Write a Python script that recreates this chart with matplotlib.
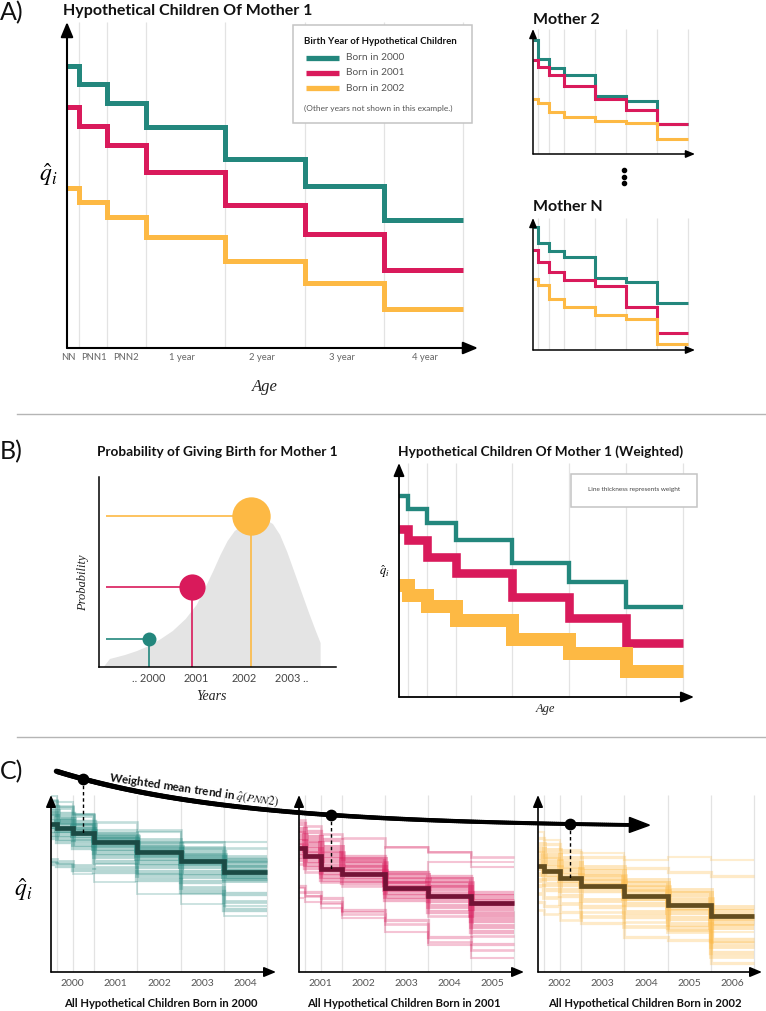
import numpy as np
import matplotlib
matplotlib.use('Agg')
import matplotlib.pyplot as plt
from matplotlib.collections import LineCollection
from matplotlib.patches import Rectangle, Polygon

W, H, DPI = 766, 1011, 100
plt.rcParams['font.family'] = ['Lato', 'DejaVu Sans']
plt.rcParams['mathtext.fontset'] = 'stix'

TEAL, CRIMSON, GOLD = '#23877d', '#d91a5b', '#fdb944'
COLORS = [TEAL, CRIMSON, GOLD]
DARK = ['#1b4b45', '#741236', '#634d1f']
GRID = '#e3e3e3'
SERIF = ['Liberation Serif', 'DejaVu Serif']

# ---------------- data ----------------
age_edges = [0, 0.15, 0.5, 1, 2, 3, 4, 5]
age_labels = ['NN', 'PNN1', 'PNN2', '1 year', '2 year', '3 year', '4 year']
age_label_pos = [0.02, 0.34, 0.75, 1.45, 2.46, 3.47, 4.52]
series_names = ['Born in 2000', 'Born in 2001', 'Born in 2002']

# Mother 1 (panel A)
m1_2000 = [282, 264, 245, 221, 189, 162, 128]
m1_2001 = [241, 222, 203, 176, 143, 114, 78]
m1_2002 = [160, 146, 131, 111, 87, 65, 39]
# Mother 2
m2_2000 = [114, 95, 86, 79, 58, 53, 30]
m2_2001 = [94, 87, 79, 68, 55, 44, 30]
m2_2002 = [55, 51, 42, 37, 33, 31, 15]
# Mother N
mN_2000 = [123, 107, 99, 93, 72, 68, 47]
mN_2001 = [100, 88, 78, 70, 64, 43, 17]
mN_2002 = [71, 65, 51, 43, 35, 31, 6]

# Panel B: birth probability
birth_time = [2000.0, 2000.9, 2002.15]
birth_prob = [28, 80, 151]
year_ticks = [2000, 2001, 2002, 2003]
year_tick_labels = ['.. 2000', '2001', '2002', '2003 ..']
density_years = [1999.05, 1999.18, 1999.5, 1999.75, 2000.0, 2000.25, 2000.5,
                 2000.77, 2001.0, 2001.17, 2001.35, 2001.5, 2001.65, 2001.8,
                 2002.0, 2002.2, 2002.45, 2002.6, 2002.75, 2002.9, 2003.05,
                 2003.2, 2003.35, 2003.5, 2003.6, 2003.6]
density_vals = [0, 8, 12, 16, 21, 28, 36, 48, 62, 78, 96, 112, 126, 136,
                143, 146, 147, 143, 132, 115, 95, 75, 55, 36, 24, 0]

# Panel B: weighted children of mother 1
w_2000 = [201, 188, 174, 157, 134, 115, 90]
w_2001 = [168, 157, 140, 124, 100, 79, 54]
w_2002 = [112, 102, 91, 77, 58, 44, 26]

# Panel C: all hypothetical children per birth year
c_birth_years = [2000, 2001, 2002]
c2000_mean = [148, 144, 139, 130, 120, 111, 100]
c2001_mean = [124, 116, 103, 98, 84, 76, 69]
c2002_mean = [106, 101, 94, 86, 76, 67, 56]

c2000_children = [
    [176, 170, 158, 142, 140, 130, 130], [170, 164, 156, 138, 132, 124, 115],
    [165, 158, 150, 136, 128, 120, 112], [160, 152, 146, 134, 124, 116, 108],
    [155, 150, 142, 132, 122, 114, 104], [150, 146, 140, 128, 118, 110, 100],
    [146, 142, 137, 124, 114, 106, 96], [142, 138, 133, 120, 110, 100, 94],
    [138, 134, 128, 116, 106, 96, 92], [134, 130, 124, 110, 100, 90, 78],
    [112, 110, 106, 104, 96, 84, 70], [108, 106, 102, 100, 92, 80, 62],
    [110, 108, 98, 90, 78, 68, 56], [172, 166, 158, 150, 142, 130, 124],
    [144, 140, 132, 108, 98, 78, 66], [160, 154, 148, 140, 130, 124, 112]]
c2000_weights = [0.2, 0.5, 0.8, 1.0, 0.9, 1.0, 0.9, 0.8, 0.7, 0.6, 0.5, 0.6,
                 0.15, 0.3, 0.2, 0.3]

c2001_children = [
    [152, 146, 138, 134, 125, 120, 115], [148, 140, 132, 115, 99, 95, 79],
    [142, 134, 124, 112, 96, 92, 75], [136, 128, 118, 108, 92, 88, 70],
    [130, 122, 112, 104, 88, 84, 64], [126, 118, 106, 100, 84, 78, 58],
    [120, 112, 100, 96, 80, 72, 52], [116, 108, 96, 92, 76, 66, 46],
    [112, 104, 92, 89, 72, 60, 40], [108, 100, 90, 86, 90, 56, 36],
    [86, 80, 74, 62, 52, 35, 28], [80, 76, 70, 58, 48, 30, 22],
    [74, 70, 64, 54, 40, 27, 14], [84, 76, 68, 60, 125, 120, 110],
    [140, 130, 120, 112, 100, 110, 105]]
c2001_weights = [0.3, 0.6, 0.9, 1.0, 0.9, 1.0, 0.8, 0.7, 0.6, 0.3, 0.4, 0.3,
                 0.2, 0.15, 0.2]

c2002_children = [
    [140, 132, 122, 119, 112, 115, 112], [134, 128, 120, 115, 104, 100, 96],
    [128, 122, 114, 105, 92, 82, 65], [122, 116, 108, 100, 88, 78, 60],
    [116, 110, 102, 95, 84, 72, 55], [110, 104, 96, 90, 80, 66, 50],
    [104, 98, 92, 86, 74, 60, 45], [98, 94, 88, 82, 68, 54, 32],
    [92, 88, 82, 72, 60, 48, 26], [86, 82, 76, 65, 55, 44, 19],
    [78, 74, 68, 55, 45, 40, 15], [70, 66, 60, 49, 35, 32, 9],
    [62, 58, 52, 60, 50, 42, 30], [120, 114, 104, 96, 72, 62, 40]]
c2002_weights = [0.2, 0.4, 0.7, 0.9, 1.0, 1.0, 0.9, 0.8, 0.7, 0.6, 0.5, 0.4,
                 0.3, 0.2]

# ---------------- figure ----------------
fig = plt.figure(figsize=(W / DPI, H / DPI), dpi=DPI)
fig.patch.set_facecolor('white')


def px_axes(x0, ytop, x1, ybot):
    ax = fig.add_axes([x0 / W, 1 - ybot / H, (x1 - x0) / W, (ybot - ytop) / H])
    ax.set_axis_off()
    return ax


def draw_arrows(ax, lw, ms):
    style = '-|>,head_length=0.6,head_width=0.25'
    for xy in [(0, 1), (1, 0)]:
        ax.annotate('', xy=xy, xytext=(0, 0), xycoords='axes fraction',
                    textcoords='axes fraction',
                    arrowprops=dict(arrowstyle=style, lw=lw, color='black',
                                    mutation_scale=ms, shrinkA=0, shrinkB=0),
                    annotation_clip=False, zorder=6)


def step_axes(x0, ytop, x1, ybot, x5):
    ax = px_axes(x0, ytop, x1, ybot)
    ax.set_xlim(0, age_edges[-1] * (x1 - x0) / (x5 - x0))
    ax.set_ylim(0, ybot - ytop)
    ax.vlines(age_edges[1:], 0, ybot - ytop, color=GRID, lw=0.9, zorder=0)
    return ax


# ---- Panel A main ----
axA = step_axes(67, 22, 478, 348, 463)
for vals, col in zip([m1_2000, m1_2001, m1_2002], COLORS):
    axA.stairs(vals, age_edges, baseline=None, color=col, lw=3.6, zorder=2)
draw_arrows(axA, 1.5, 15)
for xpos, lab in zip(age_label_pos, age_labels):
    axA.text(xpos, -10, lab, ha='center', va='center', fontsize=6.8,
             color='#666666')

# ---- Mother 2 / Mother N ----
for box, data in [((533, 29, 695, 154), [m2_2000, m2_2001, m2_2002]),
                  ((533, 218, 695, 350), [mN_2000, mN_2001, mN_2002])]:
    axm = step_axes(*box, 688)
    for vals, col in zip(data, COLORS):
        axm.stairs(vals, age_edges, baseline=None, color=col, lw=2.2, zorder=2)
    draw_arrows(axm, 1.1, 9)

# ---- Panel B left ----
axBL = fig.add_axes([99 / W, 1 - 667 / H, (336 - 99) / W, (667 - 477) / H])
axBL.set_xlim(1998.951, 2003.923)
axBL.set_ylim(0, 190)
for s in ['top', 'right']:
    axBL.spines[s].set_visible(False)
for s in ['left', 'bottom']:
    axBL.spines[s].set_linewidth(1.1)
axBL.set_xticks([])
axBL.set_yticks([])
axBL.patch.set_alpha(0)
axBL.fill(density_years, density_vals, color='#e4e4e4', lw=0, zorder=0)
pmax = max(birth_prob)
for t, p, col in zip(birth_time, birth_prob, COLORS):
    axBL.hlines(p, axBL.get_xlim()[0] + 0.15, t, color=col, lw=1.2, zorder=2)
    axBL.vlines(t, 0, p, color=col, lw=1.2, zorder=2)
    diam_pt = 1.89 * p ** 0.6 * 0.72
    axBL.scatter([t], [p], s=diam_pt ** 2, color=col, linewidths=0, zorder=3)
for yr, lab in zip(year_ticks, year_tick_labels):
    axBL.text(yr, -11, lab, ha='center', va='center', fontsize=7.8,
              color='#444444', clip_on=False)

# ---- Panel B right ----
axBR = step_axes(399, 463, 694, 697, 682.5)
for vals, col, p in zip([w_2000, w_2001, w_2002], COLORS, birth_prob):
    lw_px = 13 * (p / pmax) ** 0.65
    axBR.stairs(vals, age_edges, baseline=None, color=col, lw=lw_px * 0.72,
                zorder=2)
draw_arrows(axBR, 1.3, 13)

# ---- Panel C ----
axC = [step_axes(51, 795, 276, 972, 267),
       step_axes(299, 795, 524, 972, 514),
       step_axes(538, 795, 762, 972, 754)]
c_children = [c2000_children, c2001_children, c2002_children]
c_weights = [c2000_weights, c2001_weights, c2002_weights]
c_means = [c2000_mean, c2001_mean, c2002_mean]
for ax, kids, wts, mean, col, dk, by in zip(axC, c_children, c_weights,
                                            c_means, COLORS, DARK,
                                            c_birth_years):
    for vals, w in zip(kids, wts):
        ax.stairs(vals, age_edges, baseline=None, color=col,
                  alpha=0.22 + 0.18 * w, lw=(1 + 5.5 * w) * 0.72, zorder=2)
    ax.stairs(mean, age_edges, baseline=None, color=dk, lw=3.4, zorder=4)
    draw_arrows(ax, 1.2, 12)
    for i in range(5):
        ax.text(i + 0.5, -11, str(by + i), ha='center', va='center',
                fontsize=7.5, color='#555555')

# ---------------- overlay (annotations in pixel coords) ----------------
ov = fig.add_axes([0, 0, 1, 1], zorder=10)
ov.set_xlim(0, W)
ov.set_ylim(H, 0)
ov.set_axis_off()

# section labels & separators
for lab, y in [('A)', 13), ('B)', 452), ('C)', 772)]:
    ov.text(0, y, lab, fontsize=18, ha='left', va='center', color='#111111')
for y in [414, 737]:
    ov.plot([17, 766], [y, y], color='#b5b5b5', lw=1)

# titles
bold = dict(fontweight='bold', va='baseline', color='#111111')
ov.text(63, 15, 'Hypothetical Children Of Mother 1', fontsize=11.5, **bold)
ov.text(533, 24, 'Mother 2', fontsize=11.5, **bold)
ov.text(533, 211, 'Mother N', fontsize=11.5, **bold)
ov.text(97, 456, 'Probability of Giving Birth for Mother 1', fontsize=9.8,
        **bold)
ov.text(398, 456, 'Hypothetical Children Of Mother 1 (Weighted)', fontsize=9.8,
        **bold)
for cx, by in zip([161, 404, 645], c_birth_years):
    ov.text(cx, 1007, f'All Hypothetical Children Born in {by}', fontsize=8.1,
            ha='center', **bold)

ov.scatter([624] * 3, [170, 176.5, 183], s=9, color='black')

# axis labels
ser = dict(family=SERIF, style='italic', color='#222222', ha='center',
           va='center')
ov.text(265, 387, 'Age', fontsize=12, **ser)
ov.text(48, 175, r'$\hat{q}_i$', fontsize=17, ha='center', va='center')
ov.text(211, 697, 'Years', fontsize=10, **ser)
ov.text(83, 583, 'Probability', fontsize=9, rotation=90, **ser)
ov.text(545, 709, 'Age', fontsize=9, **ser)
ov.text(384, 572, r'$\hat{q}_i$', fontsize=9, ha='center', va='center')
ov.text(23, 890, r'$\hat{q}_i$', fontsize=17, ha='center', va='center')

# legend panel A
ov.add_patch(Rectangle((293, 25), 179, 98, fc='white', ec='#c4c4c4', lw=1.1))
ov.text(304, 44, 'Birth Year of Hypothetical Children', fontsize=6.9, **bold)
for i, (name, col) in enumerate(zip(series_names, COLORS)):
    y = 57.5 + 15.4 * i
    ov.plot([306, 339], [y, y], color=col, lw=3.8, solid_capstyle='butt')
    ov.text(346, y, name, fontsize=7.3, color='#555555', va='center')
ov.text(304, 108, '(Other years not shown in this example.)', fontsize=6.0,
        color='#555555', va='center')

# legend panel B right
ov.add_patch(Rectangle((571, 474), 126, 33, fc='white', ec='#c4c4c4', lw=1.1))
ov.text(634, 490, 'Line thickness represents weight', fontsize=4.6,
        color='#444444', ha='center', va='center')

# weighted mean trend of PNN2 across panels C
DOT_LIFT = 54
xc = (age_edges[2] + age_edges[3]) / 2
dots, means_px = [], []
inv = ov.transData.inverted()
for ax, mean in zip(axC, c_means):
    pm = inv.transform(ax.transData.transform((xc, mean[2])))
    means_px.append(pm)
    dots.append((pm[0], pm[1] - DOT_LIFT))
dots = np.array(dots)
xs, ys = dots[:, 0], dots[:, 1]
best = None
for k in np.linspace(0.0005, 0.03, 800):
    A = np.column_stack([np.ones(3), np.exp(-k * xs)])
    coef = np.linalg.lstsq(A, ys, rcond=None)[0]
    r = np.sum((A @ coef - ys) ** 2)
    if best is None or r < best[0]:
        best = (r, k, coef)
_, kb, cb = best
f = lambda x: cb[0] + cb[1] * np.exp(-kb * x)
fp = lambda x: -kb * cb[1] * np.exp(-kb * x)

tip_x = xs[-1] + 79
T = np.array([tip_x, f(tip_x)])
d = np.array([1.0, fp(tip_x)])
d /= np.linalg.norm(d)
n = np.array([-d[1], d[0]])
B = T - 20 * d
xcurve = np.linspace(xs[0] - 27, B[0] + 2, 300)
pts = np.column_stack([xcurve, f(xcurve)])
segs = np.stack([pts[:-1], pts[1:]], axis=1)
ov.add_collection(LineCollection(segs, linewidths=np.linspace(3.8, 2.7, len(segs)),
                                 colors='black', capstyle='round'))
ov.add_patch(Polygon([T, B + 7.5 * n, B - 7.5 * n], closed=True, color='black'))
for (dx, dy), pm in zip(dots, means_px):
    ov.plot([dx, dx], [dy, pm[1]], ls=(0, (2.5, 2)), color='black', lw=1)
ov.scatter(xs, ys, s=55, color='black', zorder=5)
xt = 193
ang = -np.degrees(np.arctan(fp(xt)))
ov.text(xt, f(xt) - 4, r'Weighted mean trend in $\hat{q}(PNN2)$', rotation=ang,
        rotation_mode='anchor', ha='center', va='bottom', fontsize=8.4,
        fontweight='bold', color='#111111')

fig.savefig('out.png', dpi=DPI)
